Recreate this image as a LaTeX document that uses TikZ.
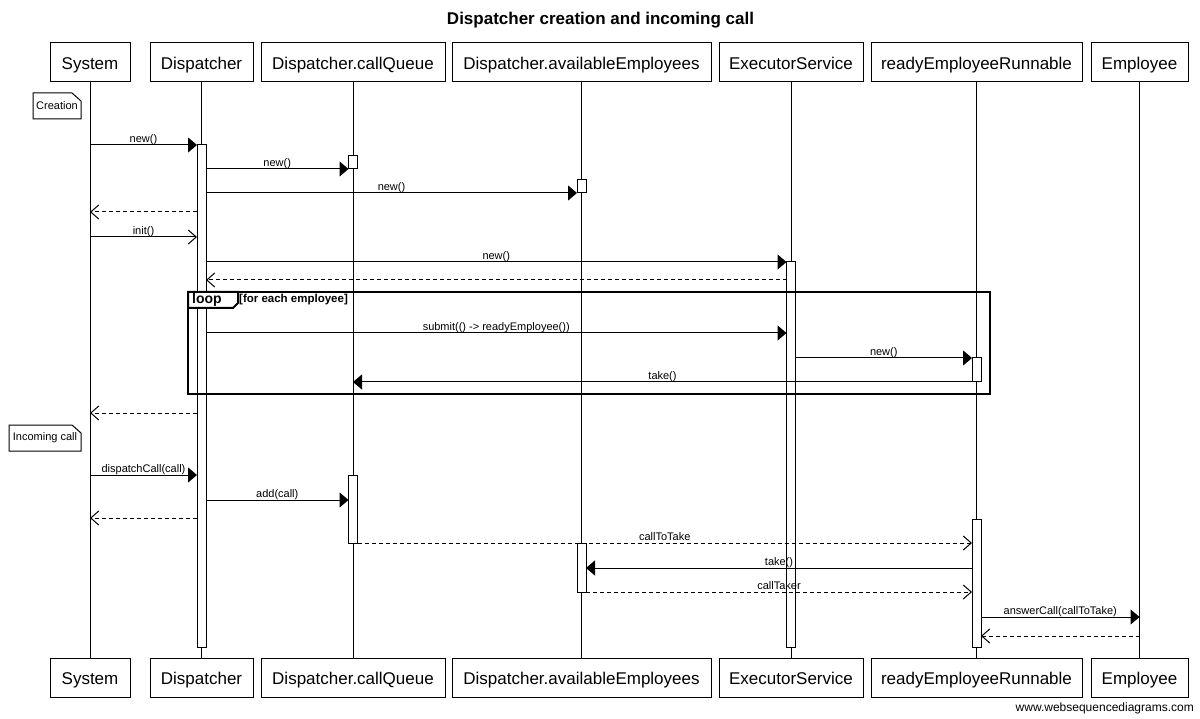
\documentclass[tikz,border=0pt]{standalone}
\usepackage{fontspec}
\setmainfont{Liberation Sans}
\usetikzlibrary{arrows.meta}
\tikzset{
  part/.style={draw=black, line width=1pt, fill=white, inner sep=0pt, outer sep=0pt, minimum height=39pt, font=\fontsize{17}{20}\selectfont, text height=14pt, text depth=0pt},
  lifeline/.style={line width=1pt},
  act/.style={draw=black, line width=1pt, fill=white, inner sep=0pt, outer sep=0pt, minimum width=9pt},
  sync/.style={line width=1pt, -{Triangle[length=9pt,width=15pt]}},
  async/.style={line width=1pt, -{Straight Barb[length=8pt,width=14pt]}},
  ret/.style={line width=1pt, dash pattern=on 4pt off 3pt, -{Straight Barb[length=8pt,width=14pt]}},
  lbl/.style={font=\fontsize{11}{13}\selectfont, anchor=base, yshift=2.5pt, inner sep=0pt},
  notetxt/.style={font=\fontsize{11}{13}\selectfont, inner sep=0pt, outer sep=0pt, minimum height=26pt},
  notedraw/.style={line width=1pt},
  framestyle/.style={draw=black, line width=2pt, inner sep=0pt, outer sep=0pt}
}
\begin{document}
\begin{tikzpicture}[x=1pt, y=-1pt]
\useasboundingbox (0,0) rectangle (1200,719);
\fill[white] (0,0) rectangle (1200,719);

% title
\node[font=\bfseries\fontsize{17}{20}\selectfont, anchor=base, inner sep=0pt] (title) at (600.5,24.5) {Dispatcher creation and incoming call};

% participants top
\node[part, minimum width=80pt]  (sysT)  at (90,62.5)    {System};
\node[part, minimum width=103pt] (dispT) at (201.5,62.5) {Dispatcher};
\node[part, minimum width=184pt] (cqT)   at (353,62.5)   {Dispatcher.callQueue};
\node[part, minimum width=259pt] (avT)   at (581.5,62.5) {Dispatcher.availableEmployees};
\node[part, minimum width=144pt] (exT)   at (791,62.5)   {ExecutorService};
\node[part, minimum width=211pt] (reT)   at (976.5,62.5) {readyEmployeeRunnable};
\node[part, minimum width=97pt]  (empT)  at (1139.5,62.5) {Employee};
% participants bottom
\node[part, minimum width=80pt]  (sysB)  at (90,677.5)    {System};
\node[part, minimum width=103pt] (dispB) at (201.5,677.5) {Dispatcher};
\node[part, minimum width=184pt] (cqB)   at (353,677.5)   {Dispatcher.callQueue};
\node[part, minimum width=259pt] (avB)   at (581.5,677.5) {Dispatcher.availableEmployees};
\node[part, minimum width=144pt] (exB)   at (791,677.5)   {ExecutorService};
\node[part, minimum width=211pt] (reB)   at (976.5,677.5) {readyEmployeeRunnable};
\node[part, minimum width=97pt]  (empB)  at (1139.5,677.5) {Employee};

% lifelines
\draw[lifeline] (sysT) -- (sysB);
\draw[lifeline] (dispT) -- (dispB);
\draw[lifeline] (cqT) -- (cqB);
\draw[lifeline] (avT) -- (avB);
\draw[lifeline] (exT) -- (exB);
\draw[lifeline] (reT) -- (reB);
\draw[lifeline] (empT) -- (empB);

% activation bars
\node[act, minimum height=502pt] (dA)  at (201.5,396)   {};
\node[act, minimum height=13pt]  (cq1) at (353,162.5)   {};
\node[act, minimum height=13pt]  (av1) at (581.5,186.5) {};
\node[act, minimum height=385pt] (ex1) at (791,454.5)   {};
\node[act, minimum height=24pt]  (re1) at (976.5,370)   {};
\node[act, minimum height=68pt]  (cq2) at (353,509)     {};
\node[act, minimum height=128pt] (re2) at (976.5,583)   {};
\node[act, minimum height=49pt]  (av2) at (581.5,567.5) {};

% notes
\node[notetxt, minimum width=48pt] (n1) at (57,106) {Creation};
\draw[notedraw] (n1.south west) -- (n1.north west) -- ([xshift=-9pt]n1.north east) -- ([yshift=-8pt]n1.north east) -- (n1.south east) -- cycle;
\node[notetxt, minimum width=72pt] (n2) at (45,438) {Incoming call};
\draw[notedraw] (n2.south west) -- (n2.north west) -- ([xshift=-9pt]n2.north east) -- ([yshift=-8pt]n2.north east) -- (n2.south east) -- cycle;

% loop frame
\node[framestyle, minimum width=802pt, minimum height=102pt] (loopF) at (589,343) {};
\draw[line width=2pt, fill=white] (loopF.north west) -- ++(50,0) -- ++(0,11) -- ++(-5,5) -- ++(-45,0) -- cycle;
\node[font=\bfseries\fontsize{14}{16}\selectfont, anchor=base west, inner sep=0pt] (loopL) at (192,304) {loop};
\node[font=\bfseries\fontsize{11.5}{13}\selectfont, anchor=base west, inner sep=0pt] (loopG) at (239,302.5) {[for each employee]};

% messages
\draw[sync] (sysT |- 0,145) -- (dA.west |- 0,145) node[lbl, midway] {new()};
\draw[sync] (dA.east |- 0,169) -- (cq1.south west) node[lbl, midway] {new()};
\draw[sync] (dA.east |- 0,193) -- (av1.south west) node[lbl, midway] {new()};
\draw[ret]  (dA.west |- 0,212) -- (sysT |- 0,212);
\draw[async] (sysT |- 0,237) -- (dA.west |- 0,237) node[lbl, midway] {init()};
\draw[sync] (dA.east |- 0,262) -- (ex1.north west) node[lbl, midway] {new()};
\draw[ret]  (ex1.west |- 0,280) -- (dA.east |- 0,280);
\draw[sync] (dA.east |- 0,333) -- (ex1.west |- 0,333) node[lbl, midway] {submit(() -> readyEmployee())};
\draw[sync] (ex1.east |- 0,358) -- (re1.north west) node[lbl, midway] {new()};
\draw[sync] (re1.south west) -- (cqT |- re1.south west) node[lbl, midway] {take()};
\draw[ret]  (dA.west |- 0,413) -- (sysT |- 0,413);
\draw[sync] (sysT |- 0,475) -- (dA.west |- 0,475) node[lbl, midway] {dispatchCall(call)};
\draw[sync] (dA.east |- 0,500) -- (cq2.west |- 0,500) node[lbl, midway] {add(call)};
\draw[ret]  (dA.west |- 0,518) -- (sysT |- 0,518);
\draw[ret]  (cq2.south east) -- (re2.west |- cq2.south east) node[lbl, midway] {callToTake};
\draw[sync] (re2.west |- 0,568) -- (av2.east |- 0,568) node[lbl, midway] {take()};
\draw[ret]  (av2.south east) -- (re2.west |- av2.south east) node[lbl, midway] {callTaker};
\draw[sync] (re2.east |- 0,617) -- (empT |- 0,617) node[lbl, midway] {answerCall(callToTake)};
\draw[ret]  (empT |- 0,636) -- (re2.east |- 0,636);

% watermark
\node[font=\fontsize{12}{14}\selectfont, anchor=base east, inner sep=0pt] (wm) at (1194,711) {www.websequencediagrams.com};
\end{tikzpicture}
\end{document}
